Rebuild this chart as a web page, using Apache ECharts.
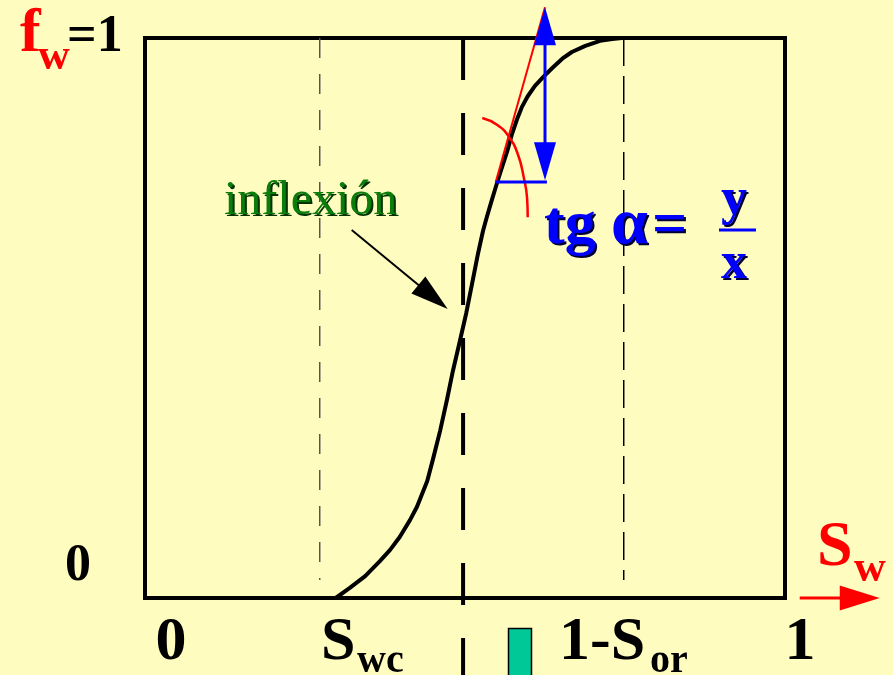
<!DOCTYPE html>
<html>
<head>
<meta charset="utf-8">
<script src="https://cdn.jsdelivr.net/npm/echarts@6/dist/echarts.min.js"></script>
<style>
  html, body { margin: 0; padding: 0; background: #FFFCC0; }
  #chart { width: 893px; height: 675px; }
</style>
</head>
<body>
<div id="chart"></div>
<script>
// Fractional-flow curve f_w(S_w)
const waterSaturation = [0.298, 0.320, 0.344, 0.367, 0.383, 0.398, 0.414, 0.425, 0.441, 0.450,
                         0.461, 0.472, 0.481, 0.492, 0.502, 0.511, 0.520, 0.528, 0.534, 0.542,
                         0.550, 0.558, 0.566, 0.573, 0.581, 0.589, 0.598, 0.609, 0.622, 0.636,
                         0.652, 0.667, 0.688, 0.711, 0.730, 0.745];
const fractionalFlow  = [0.000, 0.018, 0.039, 0.066, 0.086, 0.109, 0.139, 0.163, 0.209, 0.248,
                         0.298, 0.355, 0.405, 0.459, 0.509, 0.561, 0.613, 0.655, 0.680, 0.711,
                         0.741, 0.770, 0.798, 0.827, 0.854, 0.877, 0.896, 0.914, 0.930, 0.946,
                         0.963, 0.975, 0.986, 0.995, 0.998, 1.000];

// Reference saturations
const swc = 0.273;           // connate water
const oneMinusSor = 0.748;   // 1 - residual oil
const swInflexion = 0.497;   // inflection point

// Tangent construction (tg alpha = y / x)
const tangentSw = [0.548, 0.625];
const tangentFw = [0.743, 1.055];
const arcSw = [0.527, 0.550, 0.569, 0.583, 0.592, 0.597, 0.598];
const arcFw = [0.857, 0.845, 0.823, 0.791, 0.750, 0.714, 0.680];
const runSw = [0.548, 0.628];
const runFw = 0.743;
const riseSw = 0.625;
const riseFw = [1.055, 0.746];

// Pointer to the inflection
const pointerSw = [0.323, 0.473];
const pointerFw = [0.657, 0.516];

// Sw axis arrow (drawn past the right edge)
const swArrowSw = [1.023, 1.148];

// Tick labels
const yTickLabels = ['0', '=1'];
const xTickLabels = ['0', 'S', 'wc', '1-S', 'or', '1'];

const zip = (xs, ys) => xs.map((x, i) => [x, ys[i]]);

function arrowSeries(rows, color, width, headLen, headWid) {
  return {
    type: 'custom',
    clip: false,
    silent: true,
    z: 5,
    data: rows,
    renderItem: function (params, api) {
      const p0 = api.coord([api.value(0), api.value(1)]);
      const p1 = api.coord([api.value(2), api.value(3)]);
      const both = api.value(4) === 1;
      const dx = p1[0] - p0[0], dy = p1[1] - p0[1];
      const len = Math.sqrt(dx * dx + dy * dy);
      const ux = dx / len, uy = dy / len;
      const nx = -uy, ny = ux;
      const head = (tip, sx, sy) => {
        const bx = tip[0] - sx * headLen, by = tip[1] - sy * headLen;
        return {
          type: 'polygon',
          shape: { points: [tip, [bx + nx * headWid / 2, by + ny * headWid / 2], [bx - nx * headWid / 2, by - ny * headWid / 2]] },
          style: { fill: color }
        };
      };
      const start = both ? [p0[0] + ux * headLen * 0.8, p0[1] + uy * headLen * 0.8] : p0;
      const end = [p1[0] - ux * headLen * 0.8, p1[1] - uy * headLen * 0.8];
      const children = [
        { type: 'line', shape: { x1: start[0], y1: start[1], x2: end[0], y2: end[1] },
          style: { stroke: color, lineWidth: width } },
        head(p1, ux, uy)
      ];
      if (both) children.push(head(p0, -ux, -uy));
      return { type: 'group', children: children };
    }
  };
}

const chart = echarts.init(document.getElementById('chart'), null, { renderer: 'canvas' });

const SERIF = '"Liberation Serif", "Times New Roman", serif';
// place text by its left/center/right x and alphabetic baseline
function label(str, x, baseline, size, color, opts) {
  opts = opts || {};
  const weight = opts.weight || 'bold';
  const align = opts.align || 'left';
  const y = baseline - 0.29 * size;
  const mk = (dx, dy, fill) => ({
    type: 'text',
    x: x + dx, y: y + dy,
    silent: true,
    z: 10,
    style: {
      text: str, fill: fill,
      font: weight + ' ' + size + 'px ' + SERIF,
      align: align, textAlign: align,
      verticalAlign: 'middle', textVerticalAlign: 'middle'
    }
  });
  const out = [];
  if (opts.shadow) out.push(mk(opts.shadowOffset || 2, opts.shadowOffset || 2, opts.shadow));
  out.push(mk(0, 0, color));
  return out;
}

const formulaShadow = { shadow: '#000033', shadowOffset: 2 };

const graphics = [].concat(
  // f_w = 1
  label('f', 20, 53, 62, '#FF0000'),
  label('w', 38, 70, 44, '#FF0000'),
  label(yTickLabels[1], 67, 53, 52, '#000000'),
  // y zero
  label(yTickLabels[0], 78, 582, 52, '#000000', { align: 'center' }),
  // x tick labels
  label(xTickLabels[0], 171, 661, 62, '#000000', { align: 'center' }),
  label(xTickLabels[1], 321, 661, 62, '#000000'),
  label(xTickLabels[2], 357, 673, 40, '#000000'),
  label(xTickLabels[3], 559, 661, 62, '#000000'),
  label(xTickLabels[4], 650, 673, 40, '#000000'),
  label(xTickLabels[5], 800, 661, 62, '#000000', { align: 'center' }),
  // Sw axis title
  label('S', 817, 567, 64, '#FF0000'),
  label('w', 854, 582, 44, '#FF0000'),
  // tangent formula
  label('tg', 544, 245, 62, '#0000FF', formulaShadow),
  label('\u03B1', 611, 245, 66, '#0000FF', formulaShadow),
  label('=', 652, 245, 62, '#0000FF', formulaShadow),
  label('y', 734, 216, 52, '#0000FF', Object.assign({ align: 'center' }, formulaShadow)),
  label('x', 734, 280, 52, '#0000FF', Object.assign({ align: 'center' }, formulaShadow)),
  // inflection annotation
  label('inflexi\u00F3n', 224, 215, 48, '#0B7D0B', { weight: 'normal', shadow: '#033303', shadowOffset: 2 }),
  [
    { type: 'rect', silent: true, z: 10, shape: { x: 719, y: 228.5, width: 37, height: 3 }, style: { fill: '#0000FF' } },
    { type: 'rect', silent: true, z: 10, shape: { x: 508.5, y: 628.5, width: 23, height: 60 },
      style: { fill: '#00C896', stroke: '#000000', lineWidth: 1.5 } }
  ]
);

const option = {
  backgroundColor: '#FFFCC0',
  animation: false,
  grid: {
    left: 145, right: 108, top: 38, bottom: 77,
    show: true, borderColor: '#000000', borderWidth: 4, backgroundColor: 'transparent'
  },
  xAxis: { type: 'value', min: 0, max: 1, show: false },
  yAxis: { type: 'value', min: 0, max: 1, show: false },
  series: [
    // connate water
    { type: 'line', data: [[swc, 1], [swc, 0.032]], symbol: 'none', silent: true,
      lineStyle: { color: '#555555', width: 1.5, type: [20, 16] } },
    // 1 - Sor
    { type: 'line', data: [[oneMinusSor, 1], [oneMinusSor, 0.032]], symbol: 'none', silent: true,
      lineStyle: { color: '#000000', width: 1.5, type: [28, 10] } },
    // inflection vertical
    { type: 'line', data: [[swInflexion, 1], [swInflexion, -0.14]], symbol: 'none', silent: true, clip: false,
      lineStyle: { color: '#000000', width: 4, type: [42, 33] } },
    // fractional-flow curve
    { type: 'line', data: zip(waterSaturation, fractionalFlow), symbol: 'none', silent: true,
      smooth: false, clip: false, z: 3,
      lineStyle: { color: '#000000', width: 4, join: 'round', cap: 'round' } },
    // tangent
    { type: 'line', data: zip(tangentSw, tangentFw), symbol: 'none', silent: true, clip: false, z: 4,
      lineStyle: { color: '#FF0000', width: 2 } },
    // angle arc
    { type: 'line', data: zip(arcSw, arcFw), symbol: 'none', silent: true, clip: false, smooth: 0.5, z: 4,
      lineStyle: { color: '#FF0000', width: 2.5 } },
    // run (x)
    { type: 'line', data: zip(runSw, [runFw, runFw]), symbol: 'none', silent: true, z: 4,
      lineStyle: { color: '#0000FF', width: 3 } },
    // rise (y), double arrow
    arrowSeries([[riseSw, riseFw[0], riseSw, riseFw[1], 1]], '#0000FF', 3, 38, 22),
    // pointer
    arrowSeries([[pointerSw[0], pointerFw[0], pointerSw[1], pointerFw[1], 0]], '#000000', 2, 38, 22),
    // Sw direction arrow
    arrowSeries([[swArrowSw[0], 0, swArrowSw[1], 0, 0]], '#FF0000', 3, 40, 25)
  ],
  graphic: { elements: graphics }
};

chart.setOption(option);
</script>
</body>
</html>
